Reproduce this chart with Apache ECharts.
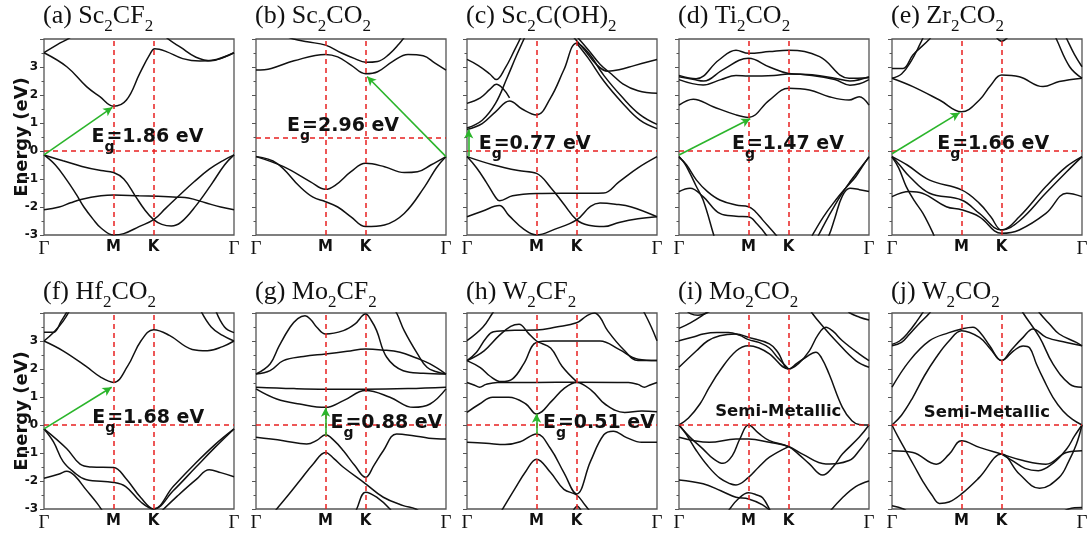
<!DOCTYPE html>
<html>
<head>
<meta charset="utf-8">
<title>MXene band structures</title>
<script src="https://cdn.jsdelivr.net/npm/echarts@6/dist/echarts.min.js"></script>
<style>
    html, body {margin: 0; padding: 0; background: #fff;}
    #main {width: 1092px; height: 535px;}
</style>
</head>
<body>
<div id="main"></div>
<script type="text/javascript">
    // k path as % of path length: Γ - M - K - Γ
    var kTicks = [0, 36.6, 57.7, 100];
    var kNames = ['Γ', 'M', 'K', 'Γ'];
    var energyTicks = [-3, -2, -1, 0, 1, 2, 3];

    var titles = [
        '{n|(a) Sc}{s|2}{n|CF}{s|2}', '{n|(b) Sc}{s|2}{n|CO}{s|2}', '{n|(c) Sc}{s|2}{n|C(OH)}{s|2}',
        '{n|(d) Ti}{s|2}{n|CO}{s|2}', '{n|(e) Zr}{s|2}{n|CO}{s|2}', '{n|(f) Hf}{s|2}{n|CO}{s|2}',
        '{n|(g) Mo}{s|2}{n|CF}{s|2}', '{n|(h) W}{s|2}{n|CF}{s|2}', '{n|(i) Mo}{s|2}{n|CO}{s|2}',
        '{n|(j) W}{s|2}{n|CO}{s|2}'
    ];
    var fermiLevels = [0, 0.49, 0, 0, 0, 0, 0, 0, 0, 0];
    var gapLabels = [
        '{e|E}{s|g}{e|=1.86 eV}', '{e|E}{s|g}{e|=2.96 eV}', '{e|E}{s|g}{e|=0.77 eV}',
        '{e|E}{s|g}{e|=1.47 eV}', '{e|E}{s|g}{e|=1.66 eV}', '{e|E}{s|g}{e|=1.68 eV}',
        '{e|E}{s|g}{e|=0.88 eV}', '{e|E}{s|g}{e|=0.51 eV}', '{e|Semi-Metallic}', '{e|Semi-Metallic}'
    ];
    var gapLabelAt = [[24.7, 0.42], [16.1, 0.81], [5.9, 0.15], [27.6, 0.15], [23.5, 0.15],
                      [25.1, 0.15], [38.9, -0.02], [39.7, -0.02], [18.8, 0.35], [16.5, 0.33]];
    // green arrows: [from, to]
    var gapArrows = [
        [[0, -0.14], [36.0, 1.56]], [[100, -0.2], [58.5, 2.66]], [[0.9, -0.2], [0.9, 0.77]],
        [[0, -0.14], [37.5, 1.15]], [[0, -0.1], [35.6, 1.37]], [[0, -0.14], [35.6, 1.35]],
        [[36.6, -0.38], [36.6, 0.62]], [[36.6, -0.32], [36.6, 0.4]], null, null
    ];

    var bandsA = [
        [[0,3.51],[12,3.01],[22.4,2.3],[29.4,1.94],[36.6,1.6],[43.4,1.82],[50.4,2.77],[55.7,3.45],[58.3,3.65],[64.4,3.55],[73,3.3],[82,3.21],[90.7,3.27],[100,3.51]],
        [[0,3.51],[7,3.8],[13.7,4.05],[16,4.2]],
        [[63,4.2],[65,4.02],[72,3.7],[80,3.35],[88,3.22],[94,3.33],[100,3.51]],
        [[0,-0.14],[10,-0.35],[20,-0.55],[30,-0.7],[36.6,-0.77],[42,-1.0],[48,-1.6],[53,-2.1],[57.7,-2.45],[62,-2.62],[67,-2.68],[72,-2.55],[80,-1.95],[88,-1.2],[95,-0.5],[100,-0.14]],
        [[0,-0.14],[6,-0.5],[12,-1.04],[17,-1.55],[21,-2.0],[26,-2.45],[30,-2.75],[36.6,-3.0],[42,-2.95],[50,-2.7],[57.7,-2.45],[64,-2.05],[71,-1.6],[79,-1.1],[87,-0.65],[94,-0.35],[100,-0.14]],
        [[0,-2.1],[8,-2.0],[14,-1.85],[20,-1.72],[30,-1.6],[36.6,-1.57],[50,-1.6],[60,-1.62],[70,-1.65],[76,-1.68],[85,-1.85],[93,-2.0],[100,-2.1]]
    ];
    var bandsB = [
        [[0,2.89],[8,2.95],[20,3.22],[36.6,3.45],[43,3.36],[50,3.07],[57.7,2.76],[64,2.83],[72,3.2],[80,3.45],[88,3.4],[94,3.15],[100,2.89]],
        [[14,4.15],[19.8,4.0],[27,3.9],[36.6,3.78],[45,3.5],[52,3.3],[57.7,3.17],[64,3.2],[70,3.45],[75,3.8],[79,4.15]],
        [[0,-0.2],[14.5,-0.56],[28.7,-1.1],[36.6,-1.37],[42,-1.21],[50,-0.74],[57.7,-0.44],[67.6,-0.56],[78,-0.77],[85,-0.74],[92,-0.5],[100,-0.2]],
        [[0,-0.2],[11,-0.44],[23,-1.27],[30,-1.65],[36.6,-1.81],[43,-2.0],[50,-2.35],[57.7,-2.7],[67.6,-2.64],[78,-2.23],[88.8,-1.27],[95,-0.6],[100,-0.2]]
    ];
    var bandsC = [
        [[0,0.77],[8,0.98],[15,1.4],[22.4,1.79],[29,1.5],[36.6,1.29],[44,1.9],[51,2.9],[57.7,3.85],[64,3.5],[72,2.7],[82,1.9],[91,1.3],[100,0.95]],
        [[0,0.82],[8,1.1],[15,1.7],[21,2.6],[26,3.4],[31,4.15]],
        [[0,3.27],[6,3.05],[12,2.75],[15.4,2.55],[20,2.95],[25,3.6],[29,4.15]],
        [[0,1.7],[7,1.9],[12,2.2],[15.4,2.38],[19,2.22],[22.4,1.9]],
        [[55,4.15],[62,3.6],[68,3.1],[74,2.85],[80,2.9],[88,3.05],[100,3.27]],
        [[57,4.15],[64,3.6],[70,3.1],[76,2.75],[82,2.4],[90,2.15],[100,2.06]],
        [[57.7,3.85],[64,3.3],[72,2.5],[82,1.7],[91,1.1],[100,0.8]],
        [[0,-0.2],[14,-0.5],[27,-0.7],[36.6,-0.8],[44,-1.3],[51,-1.9],[57.7,-2.46],[64,-2.65],[72,-2.7],[80,-2.55],[90,-2.42],[100,-2.35]],
        [[0,-0.2],[5,-0.6],[10,-1.1],[15,-1.65],[17.2,-1.78],[24,-1.6],[36.6,-1.52],[50,-1.51],[65,-1.51],[72,-1.5],[80,-1.1],[90,-0.6],[100,-0.2]],
        [[0,-2.35],[8,-2.15],[17,-1.95],[22,-2.3],[30,-2.8],[36.6,-3.0],[46,-2.8],[57.7,-2.46],[65,-1.98],[70,-1.86],[78,-1.9],[86.5,-2.0],[100,-2.35]]
    ];
    var bandsD = [
        [[0,1.64],[7.5,1.85],[18,1.58],[30,1.29],[36.6,1.2],[47.6,1.82],[57.7,2.24],[68.6,2.18],[79,1.94],[89.5,1.82],[94.8,1.94],[100,1.64]],
        [[0,2.65],[8,2.55],[13,2.5],[23,2.9],[36.6,3.31],[47.6,3.0],[57.7,2.77],[70,2.72],[82,2.6],[90,2.5],[100,2.65]],
        [[0,2.55],[12.7,2.36],[22,2.55],[30,2.7],[36.6,2.68],[50,2.7],[57.7,2.75],[70,2.7],[82,2.55],[90,2.35],[95,2.4],[100,2.55]],
        [[0,2.7],[9,2.58],[21,3.25],[30,3.6],[36.6,3.49],[47.6,3.55],[57.7,3.6],[74,3.37],[89.5,2.6],[100,2.62]],
        [[0,-0.2],[3,-0.45],[5.8,-0.8],[9,-1.25],[12.7,-1.75],[18,-2.94],[19,-3.2]],
        [[0,-0.22],[4,-0.5],[9.2,-1.04],[15,-1.45],[21.5,-1.75],[30,-1.93],[36.6,-1.99],[40,-2.15],[44,-2.46],[51,-3.0],[53,-3.2]],
        [[0,-1.45],[5.8,-1.33],[12.7,-1.63],[21.5,-2.23],[30,-2.33],[36.6,-2.35],[41,-2.6],[45.9,-3.0],[47,-3.2]],
        [[69,-3.2],[70.3,-3.0],[76,-2.35],[82.5,-1.75],[88,-1.3],[93,-0.92],[97,-0.5],[100,-0.2]],
        [[72,-3.2],[73.5,-3.0],[79,-2.3],[85,-1.6],[90,-1.1],[95,-0.65],[100,-0.22]],
        [[77,-3.2],[79,-3.0],[82,-2.4],[86,-1.6],[90,-1.33],[95,-1.38],[100,-1.45]]
    ];
    var bandsE = [
        [[0,2.6],[11,2.3],[25,1.82],[36.6,1.4],[46,1.82],[52,2.35],[57.7,2.71],[67,2.65],[79.5,2.3],[88,2.48],[100,2.6]],
        [[0,2.95],[5.8,2.95],[11,3.43],[19.8,4.0],[21,4.15]],
        [[0,2.6],[5,2.75],[10,3.2],[15,3.85],[17,4.15]],
        [[85.5,4.15],[86.5,4.0],[93.5,3.01],[100,2.6]],
        [[91,4.15],[92,4.0],[96,3.45],[100,3.01]],
        [[54,4.15],[57.7,3.92],[62,4.15]],
        [[0,-0.2],[8,-0.5],[19.8,-1.04],[36.6,-1.39],[46,-1.87],[52,-2.35],[57.7,-2.82],[67,-2.35],[81,-1.27],[91.8,-0.56],[100,-0.2]],
        [[0,-0.2],[4,-0.5],[9.3,-0.92],[19.8,-1.51],[36.6,-1.75],[46,-2.23],[57.7,-2.82],[67,-2.5],[81,-1.5],[91.8,-0.75],[100,-0.2]],
        [[0,-1.63],[9.3,-1.45],[16,-1.51],[28.6,-1.99],[36.6,-2.1],[46,-2.35],[57.7,-2.94],[67,-2.82],[81,-2.23],[92,-1.51],[100,-1.63]],
        [[0,-0.22],[3.5,-0.6],[7.5,-1.27],[12,-1.8],[16.3,-2.23],[21.6,-2.94],[23,-3.2]]
    ];
    var bandsF = [
        [[0,3.0],[10,2.65],[22,2.1],[30,1.7],[36.6,1.52],[44,2.1],[51,3.0],[57.7,3.4],[66,3.2],[78,2.7],[86,2.65],[94,2.8],[100,3.0]],
        [[0,3.0],[5,3.3],[10,3.7],[14,4.15]],
        [[0,3.31],[5,3.31],[9,3.7],[13,4.15]],
        [[82,4.15],[88,3.5],[94,3.2],[100,3.0]],
        [[90,4.15],[95,3.5],[100,3.3]],
        [[0,-0.14],[12,-0.85],[19,-1.4],[25,-1.5],[36.6,-1.52],[43,-1.9],[51,-2.6],[57.7,-3.0],[68,-2.2],[80,-1.35],[90,-0.7],[100,-0.14]],
        [[0,-0.14],[5,-0.6],[10,-1.3],[16,-1.7],[22,-1.95],[36.6,-2.05],[43,-2.2],[51,-2.75],[57.7,-3.0],[68,-2.35],[80,-1.5],[90,-0.8],[100,-0.14]],
        [[0,-1.9],[8,-1.75],[12,-1.65],[16,-1.8],[22,-2.3],[28,-2.8],[32,-3.2]],
        [[60,-3.2],[70,-2.55],[80,-1.95],[87,-1.6],[93,-1.7],[100,-1.85]]
    ];
    var bandsG = [
        [[0,1.29],[10.9,0.93],[23,0.75],[36.6,0.63],[46,0.87],[57.7,1.23],[70.5,0.99],[82.8,0.63],[91.6,0.75],[100,1.29]],
        [[0,1.35],[20,1.3],[36.6,1.28],[57.7,1.28],[80,1.3],[100,1.35]],
        [[0,1.82],[7.4,1.94],[14.4,2.3],[25,2.45],[36.6,2.54],[48,2.63],[57.7,2.71],[66,2.68],[75.8,2.6],[84,2.4],[91.6,2.18],[100,1.82]],
        [[0,1.82],[7.4,2.18],[12,2.8],[17.9,3.49],[22,3.8],[25.8,3.9],[29,3.75],[32,3.49],[36.6,3.25],[46,3.37],[52,3.6],[57.7,3.96],[60.5,3.75],[63.5,3.37],[68.8,2.42],[77.5,1.94],[88,1.85],[100,1.82]],
        [[72,4.15],[74,4.0],[78,3.37],[85,2.54],[90,2.06],[95,1.9],[100,1.82]],
        [[0,-0.44],[14.4,-0.56],[26.7,-0.68],[32,-0.55],[36.6,-0.35],[41,-0.55],[46,-0.92],[52,-1.45],[57.7,-1.87],[62,-1.45],[67,-0.92],[74,-0.32],[82.8,-0.38],[91,-0.47],[100,-0.5]],
        [[9,-3.2],[10.9,-3.0],[17,-2.5],[23,-1.99],[30,-1.4],[36.6,-0.98],[41,-1.2],[46,-1.51],[57.7,-2.1],[67,-2.58],[77.5,-2.88],[84,-3.0],[88,-3.2]],
        [[52,-3.2],[53,-3.0],[57.7,-2.4],[63.5,-2.58],[70.5,-3.0],[72,-3.2]]
    ];
    var bandsH = [
        [[0,0.45],[6.6,0.75],[13.5,0.99],[22,0.99],[31,0.75],[36.6,0.39],[44.8,0.87],[51,1.3],[57.7,1.52],[65.6,1.23],[72.6,0.75],[83,0.45],[92,0.5],[100,0.47]],
        [[0,1.52],[4,1.42],[6.6,1.35],[10,1.45],[16,1.52],[36.6,1.52],[57.7,1.53],[85,1.52],[90,1.45],[93.4,1.35],[96,1.42],[100,1.52]],
        [[0,2.3],[9,2.65],[17,3.2],[23,3.52],[27.4,3.6],[32,3.3],[36.6,3.0],[44,2.75],[50,2.1],[57.7,1.55]],
        [[0,2.3],[7,2.05],[12,1.75],[18,1.55],[24,1.65],[30,2.2],[36.6,2.95],[45,3.0],[57.7,3.0],[70,3.0],[80,2.7],[90,2.35],[100,2.3]],
        [[0,3.01],[8.3,3.49],[13.5,4.0],[15,4.15]],
        [[0,2.3],[5,2.6],[10,3.1],[14,3.33],[25,3.38],[36.6,3.39],[47,3.5],[57.7,3.65],[63,3.9],[67,4.0],[70,3.85],[74,3.37],[83,2.65],[90,2.3],[100,2.3]],
        [[92,4.15],[93.4,4.0],[97,3.5],[100,3.01]],
        [[0,-0.62],[10,-0.65],[20,-0.7],[28,-0.6],[36.6,-0.32],[44,-0.85],[51,-1.7],[57.7,-2.46],[65,-1.3],[72,-0.35],[77,-0.22],[84,-0.45],[92,-0.62],[100,-0.62]],
        [[17,-3.2],[25,-2.3],[31,-1.65],[36.6,-1.22],[44,-1.7],[51,-2.3],[57.7,-2.5],[62,-2.85],[66,-3.2]],
        [[55,-3.2],[58,-2.9],[61,-3.2]]
    ];
    var bandsI = [
        [[0,0],[5,0.25],[11,0.75],[16,1.35],[21.5,1.94],[30.2,2.65],[36.6,2.83],[42,2.75],[47.6,2.54],[57.7,2.0],[62,2.2],[66.8,2.42],[72,2.6],[75,2.4],[79,1.82],[86,0.63],[91,0.15],[94.8,0.02],[100,0]],
        [[0,2.06],[9.2,2.65],[15,3.0],[21.5,3.19],[30,3.25],[36.6,3.13],[47.6,2.9],[52,2.6],[57.7,2.0],[63,2.2],[68.6,2.65],[73,3.2],[77.3,3.49],[81,3.35],[86,3.01],[94.8,2.54],[100,2.3]],
        [[0,3.01],[8,3.15],[12.7,3.25],[20,3.3],[26,3.3],[32,3.2],[36.6,3.05],[42,2.95],[47.6,2.75],[52,2.4],[57.7,2.0]],
        [[69,4.15],[70,4.0],[76,3.5],[82.5,3.01],[93,2.3],[100,2.06]],
        [[0,3.45],[6,3.65],[12,3.9],[17,4.15]],
        [[3,4.15],[6,3.98],[10,3.92],[14,3.98],[18,4.15]],
        [[88,4.15],[90,4.0],[95,3.85],[100,3.75]],
        [[0,0],[6,-0.45],[12.7,-0.86],[18,-1.2],[23.2,-1.37],[28,-1.1],[32,-0.5],[36.6,0],[42,-0.3],[47.6,-0.56],[57.7,-0.77],[63,-1.05],[68.6,-1.39],[75.6,-1.79],[81,-1.5],[86,-1.04],[94.8,-0.44],[100,0]],
        [[0,-0.44],[16,-0.62],[30,-0.5],[36.6,-0.5],[47.6,-0.62],[57.7,-0.77],[65,-1.04],[77.3,-1.39],[89.5,-1.27],[95,-0.9],[100,-0.44]],
        [[0,0],[4,-0.35],[9.2,-0.92],[15,-1.45],[21.5,-1.9],[27,-2.1],[30,-2.14],[36.6,-1.87],[42,-1.5],[47.6,-1.15],[57.7,-0.77]],
        [[0,-1.96],[12.7,-2.1],[22,-2.35],[30,-2.58],[36.6,-2.64],[44,-2.85],[50,-3.2]],
        [[25,-3.2],[26.7,-3.0],[31,-2.65],[36.6,-2.42],[41,-2.5],[44,-2.6],[47.6,-3.0],[49,-3.2]],
        [[78,-3.2],[86,-2.6],[93,-2.2],[100,-2.0]]
    ];
    var bandsJ = [
        [[0,0],[5,0.35],[11,0.99],[17,1.75],[23.3,2.42],[30,3.0],[36.6,3.37],[46,3.13],[52,2.7],[57.7,2.3],[64,2.65],[69,2.82],[72.5,2.75],[76,2.18],[80,1.6],[84.7,0.99],[90,0.5],[95,0.2],[100,0]],
        [[0,1.35],[9.3,2.3],[19.8,3.01],[30,3.3],[36.6,3.43],[42.6,3.49],[47,3.25],[51.4,2.83],[57.7,2.3],[63,2.7],[69,3.13],[74.2,3.43],[81.2,3.13],[91.8,2.95],[100,2.83]],
        [[0,2.83],[5,2.95],[9.3,3.25],[14,3.6],[19.8,4.0],[21,4.15]],
        [[0,2.88],[4,3.0],[8.5,3.3],[13,3.7],[17.5,4.15]],
        [[68,4.15],[69,4.0],[77.7,3.13],[84.7,2.18],[93.5,1.46],[100,1.35]],
        [[76.5,4.15],[77.7,4.0],[83,3.6],[88,3.25],[97,2.95],[100,2.83]],
        [[0,-0.92],[11,-0.98],[23.3,-1.4],[30,-1.05],[36.6,-0.56],[46,-0.8],[57.7,-1.04],[69,-1.27],[81,-1.4],[91.8,-0.98],[100,-0.92]],
        [[0,0],[3,-0.4],[7.5,-0.95],[12,-1.5],[16.3,-2.02],[21,-2.5],[25,-2.8],[30,-2.75],[36.6,-2.46],[46,-1.87],[57.7,-1.04],[67,-1.75],[77.7,-2.26],[88,-1.87],[93,-1.3],[97,-0.7],[100,0]],
        [[57.7,-1.04],[64,-1.3],[70,-1.55],[77,-1.63],[85,-1.35],[92,-0.85],[96,-0.4],[100,0]],
        [[0,-2.88],[6,-3.0],[10,-3.2]],
        [[88,-3.2],[93,-3.0],[100,-2.95]]
    ];
    var allBands = [bandsA, bandsB, bandsC, bandsD, bandsE, bandsF, bandsG, bandsH, bandsI, bandsJ];

    var panelLefts = [44, 256, 467, 679, 892];
    var panelTops = [39, 313];
    var panelW = 190, panelH = 196;

    var grids = [], xAxes = [], yAxes = [], series = [], titleList = [];
    for (var i = 0; i < 10; i++) {
        var col = i % 5, row = Math.floor(i / 5);
        grids.push({
            left: panelLefts[col], top: panelTops[row], width: panelW, height: panelH,
            show: true, borderColor: '#555', borderWidth: 1.3, containLabel: false, outerBoundsMode: 'none'
        });
        titleList.push({
            text: titles[i], left: panelLefts[col] - 1, top: row === 0 ? 3 : 279, padding: 0,
            textStyle: {
                fontWeight: 'normal',
                rich: {
                    n: {fontFamily: 'Liberation Serif', fontWeight: 'normal', fontSize: 26, color: '#111', lineHeight: 30, verticalAlign: 'top'},
                    s: {fontFamily: 'Liberation Serif', fontWeight: 'normal', fontSize: 17, color: '#111', lineHeight: 17, padding: [15, 0, 0, 0], verticalAlign: 'top'}
                }
            }
        });
        xAxes.push({
            type: 'value', gridIndex: i, min: 0, max: 100,
            axisLine: {show: false, onZero: false}, axisTick: {show: false}, splitLine: {show: false},
            axisLabel: {
                customValues: kTicks, margin: 5,
                formatter: function (v) {
                    var n = kNames[kTicks.indexOf(v)];
                    return n === 'Γ' ? '{g|Γ}' : '{b|' + n + '}';
                },
                rich: {
                    g: {fontFamily: 'Liberation Serif', fontSize: 19, color: '#111'},
                    b: {fontFamily: 'DejaVu Sans', fontWeight: 'bold', fontSize: 15, color: '#111'}
                }
            }
        });
        yAxes.push({
            type: 'value', gridIndex: i, min: -3, max: 4, interval: 1,
            axisLine: {show: false, onZero: false}, splitLine: {show: false},
            axisTick: {show: true, inside: false, length: 4, lineStyle: {color: '#555'}},
            minorTick: {show: true, splitNumber: 2, length: 2.5, lineStyle: {color: '#555'}},
            axisLabel: {
                show: col === 0, customValues: energyTicks, margin: 6,
                fontFamily: 'DejaVu Sans', fontWeight: 'bold', fontSize: 12, color: '#111'
            },
            name: col === 0 ? 'Energy (eV)' : '', nameLocation: 'middle', nameGap: 13, nameMoveOverlap: false,
            nameTextStyle: {fontFamily: 'DejaVu Sans', fontWeight: 'bold', fontSize: 18, color: '#111'}
        });

        var marks = [{xAxis: kTicks[1]}, {xAxis: kTicks[2]}, {yAxis: fermiLevels[i]}];
        var bands = allBands[i];
        for (var b = 0; b < bands.length; b++) {
            var s = {
                type: 'line', xAxisIndex: i, yAxisIndex: i, data: bands[b],
                showSymbol: false, smooth: 0.4, silent: true, z: 2,
                lineStyle: {color: '#111', width: 1.5}
            };
            if (b === 0) {
                var mlData = marks.slice();
                if (gapArrows[i]) {
                    mlData.push([
                        {coord: gapArrows[i][0], symbol: 'none', lineStyle: {color: '#2bb52b', type: 'solid', width: 1.6}},
                        {coord: gapArrows[i][1], symbol: 'arrow', symbolSize: [7, 9]}
                    ]);
                }
                s.markLine = {
                    silent: true, symbol: ['none', 'none'], label: {show: false}, z: 3,
                    lineStyle: {color: '#e82020', type: [5, 4], width: 1.5},
                    data: mlData
                };
                s.markPoint = {
                    silent: true, z: 4,
                    data: [{
                        coord: gapLabelAt[i], symbol: 'circle', symbolSize: 1,
                        itemStyle: {color: 'rgba(0,0,0,0)'},
                        label: {
                            show: true, position: 'right', distance: 0,
                            formatter: (function (t) { return function () { return t; }; })(gapLabels[i]),
                            rich: {
                                e: {fontFamily: 'DejaVu Sans', fontWeight: 'bold', fontSize: i >= 8 ? 16.5 : 19, color: '#111', lineHeight: 24, verticalAlign: 'top'},
                                s: {fontFamily: 'DejaVu Sans', fontWeight: 'bold', fontSize: 14, color: '#111', lineHeight: 14, width: 2, padding: [13, 0, 0, 0], verticalAlign: 'top'}
                            }
                        }
                    }]
                };
            }
            series.push(s);
        }
    }

    var myChart = echarts.init(document.getElementById('main'));
    myChart.setOption({
        animation: false,
        backgroundColor: '#fff',
        title: titleList,
        grid: grids,
        xAxis: xAxes,
        yAxis: yAxes,
        series: series
    });
</script>
</body>
</html>
